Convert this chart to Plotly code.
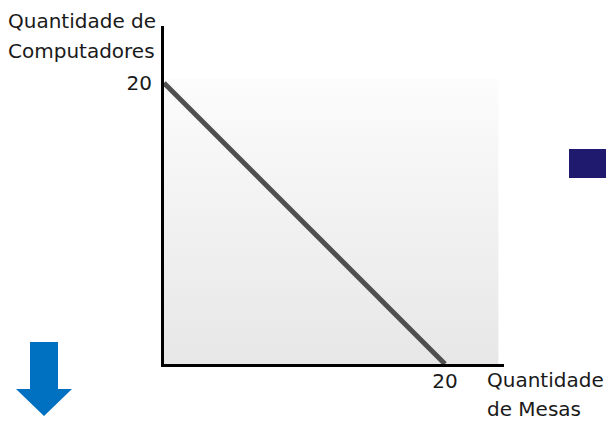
import plotly.graph_objects as go

# fronteira de possibilidades de produção
mesas = [0, 20]
computadores = [20, 0]

tick_x = [20]
tick_y = [20]

# área sombreada atrás da curva
area_x = [0, 23.8, 23.8, 0]
area_y = [0, 0, 20.3, 20.3]

W, H = 606, 421
L, R, T, B = 164, 102, 26, 57
PW, PH = W - L - R, H - T - B


def px(x):
    return (x - L) / PW


def py(y):
    return (H - B - y) / PH


FONT = dict(family="DejaVu Sans, Verdana, sans-serif", size=20, color="#1a1a1a")

fig = go.Figure()
fig.add_trace(go.Scatter(
    x=area_x, y=area_y, fill="toself", mode="none",
    fillgradient=dict(type="vertical", start=0, stop=20.3,
                      colorscale=[[0, "#e7e7e7"], [0.5, "#f1f1f1"], [1, "#fcfcfc"]]),
    hoverinfo="skip", showlegend=False,
))
fig.add_trace(go.Scatter(
    x=mesas, y=computadores, mode="lines",
    line=dict(color="#4f4f4f", width=5), showlegend=False,
))

# seta azul e retângulo (decoração)
arrow = [(30, 342), (58, 342), (58, 389), (72, 389), (44, 416), (16, 389), (30, 389)]
path = "M " + " L ".join(f"{px(a)} {py(b)}" for a, b in arrow) + " Z"
fig.add_shape(type="path", path=path, xref="paper", yref="paper",
              fillcolor="#0070c0", line=dict(width=0))
fig.add_shape(type="rect", xref="paper", yref="paper",
              x0=px(569), x1=px(610), y0=py(149), y1=py(178),
              fillcolor="#1f1a6e", line=dict(width=0))

for txt, x, y in [("Quantidade de", 6, 21), ("Computadores", 6, 51),
                  ("Quantidade", 485, 380), ("de Mesas", 485, 409)]:
    fig.add_annotation(text=txt, x=px(x), y=py(y), xref="paper", yref="paper",
                       xanchor="left", yanchor="middle", showarrow=False, font=FONT)

fig.update_xaxes(range=[0, 24.2], showgrid=False, zeroline=False,
                 showline=True, linecolor="black", linewidth=3,
                 tickvals=tick_x, ticks="", ticklabelstandoff=-3, tickfont=FONT)
fig.update_yaxes(range=[0, 24.05], showgrid=False, zeroline=False,
                 showline=True, linecolor="black", linewidth=3,
                 tickvals=tick_y, ticks="", ticklabelstandoff=5, tickfont=FONT)
fig.update_layout(
    width=W, height=H, margin=dict(l=L, r=R, t=T, b=B),
    plot_bgcolor="white", paper_bgcolor="white",
)
fig.write_html("out.html", config={"displayModeBar": False},
               post_script="document.body.style.margin='0';")
